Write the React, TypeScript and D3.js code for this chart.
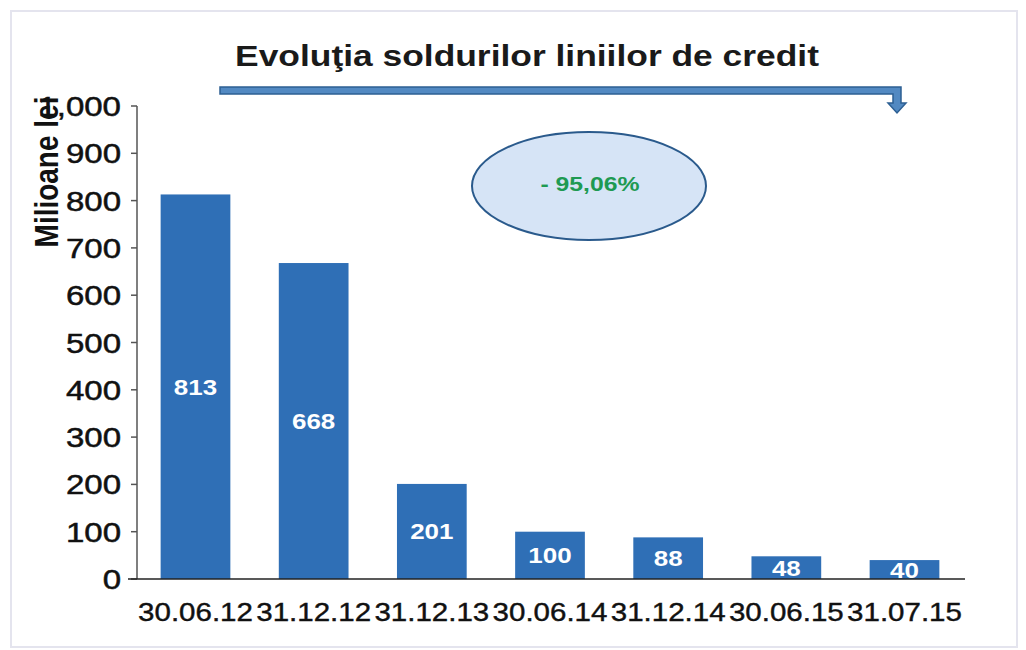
import React, { useEffect, useRef } from 'react';
import * as d3 from 'd3';

const categories = ['30.06.12', '31.12.12', '31.12.13', '30.06.14', '31.12.14', '30.06.15', '31.07.15'];
const values = [813, 668, 201, 100, 88, 48, 40];
const yTicks = [0, 100, 200, 300, 400, 500, 600, 700, 800, 900, 1000];

const W = 1026;
const H = 650;
const SX = 1.18; // scanned picture is stretched horizontally

const App = () => {
  const ref = useRef<SVGSVGElement>(null);

  useEffect(() => {
    const svg = d3.select(ref.current);
    svg.selectAll('*').remove();

    const font = '"Liberation Sans", Arial, sans-serif';

    // faint page border
    svg.append('rect')
      .attr('x', 11).attr('y', 11).attr('width', 1006).attr('height', 636)
      .attr('fill', 'white').attr('stroke', '#e4e4ee').attr('stroke-width', 2);

    const x = d3.scaleBand().domain(categories).range([137, 963]).paddingInner(0.41).paddingOuter(0.2);
    const y = d3.scaleLinear().domain([0, 1000]).range([579, 106]);

    const stretched = (sel: any, px: number, py: number) =>
      sel.attr('transform', `translate(${px},${py}) scale(${SX},1)`);

    // bars
    svg.selectAll('rect.bar')
      .data(values)
      .enter()
      .append('rect')
      .attr('class', 'bar')
      .attr('x', (d, i) => x(categories[i]))
      .attr('y', (d) => y(d))
      .attr('width', x.bandwidth())
      .attr('height', (d) => y(0) - y(d))
      .attr('fill', '#2f6fb6');

    // value labels in the middle of each bar
    values.forEach((v, i) => {
      const cx = x(categories[i]) + x.bandwidth() / 2;
      const cy = (y(v) + y(0)) / 2;
      stretched(svg.append('text'), cx, cy + 8)
        .attr('text-anchor', 'middle')
        .attr('fill', 'white')
        .style('font-family', font)
        .style('font-weight', 'bold')
        .style('font-size', '22px')
        .text(v);
    });

    // y axis
    svg.append('line')
      .attr('x1', 137).attr('x2', 137).attr('y1', y(1000)).attr('y2', y(0))
      .attr('stroke', '#555').attr('stroke-width', 1.5);
    yTicks.forEach((t) => {
      svg.append('line')
        .attr('x1', 131).attr('x2', 137).attr('y1', y(t)).attr('y2', y(t))
        .attr('stroke', '#555').attr('stroke-width', 1.5);
      stretched(svg.append('text'), 121, y(t) + 10)
        .attr('text-anchor', 'end')
        .attr('fill', '#111')
        .attr('stroke', '#111')
        .attr('stroke-width', 0.5)
        .style('font-family', font)
        .style('font-size', '28px')
        .text(d3.format(',')(t));
    });

    // x axis
    svg.append('line')
      .attr('x1', 128).attr('x2', 965).attr('y1', y(0)).attr('y2', y(0))
      .attr('stroke', '#222').attr('stroke-width', 1.5);
    categories.forEach((c) => {
      stretched(svg.append('text'), x(c) + x.bandwidth() / 2, 621)
        .attr('text-anchor', 'middle')
        .attr('fill', '#111')
        .attr('stroke', '#111')
        .attr('stroke-width', 0.4)
        .style('font-family', font)
        .style('font-size', '25px')
        .text(c);
    });

    // axis title
    svg.append('text')
      .attr('transform', `translate(58,172) rotate(-90) scale(1,${SX})`)
      .attr('text-anchor', 'middle')
      .attr('fill', '#111')
      .style('font-family', font)
      .style('font-weight', 'bold')
      .style('font-size', '28px')
      .text('Milioane lei');

    // title
    stretched(svg.append('text'), 527, 66)
      .attr('text-anchor', 'middle')
      .attr('fill', '#1a1a1a')
      .style('font-family', font)
      .style('font-weight', 'bold')
      .style('font-size', '30px')
      .text('Evoluţia soldurilor liniilor de credit');

    // bent arrow
    svg.append('path')
      .attr('d', 'M220,87 L901,87 L901,103 L906,103 L897,113 L888,103 L893,103 L893,94 L220,94 Z')
      .attr('fill', '#5289c2')
      .attr('stroke', '#2d5f93')
      .attr('stroke-width', 1.5);

    // ellipse with change
    svg.append('ellipse')
      .attr('cx', 589).attr('cy', 186).attr('rx', 117).attr('ry', 54)
      .attr('fill', '#d6e4f6')
      .attr('stroke', '#2a5a8c')
      .attr('stroke-width', 2);
    stretched(svg.append('text'), 590, 191)
      .attr('text-anchor', 'middle')
      .attr('fill', '#1e9a52')
      .style('font-family', font)
      .style('font-weight', 'bold')
      .style('font-size', '21px')
      .text('- 95,06%');
  }, []);

  return (
    <svg
      ref={ref}
      width={W}
      height={H}
      style={{ position: 'absolute', left: 0, top: 0, background: 'white' }}
    />
  );
};

export default App;
